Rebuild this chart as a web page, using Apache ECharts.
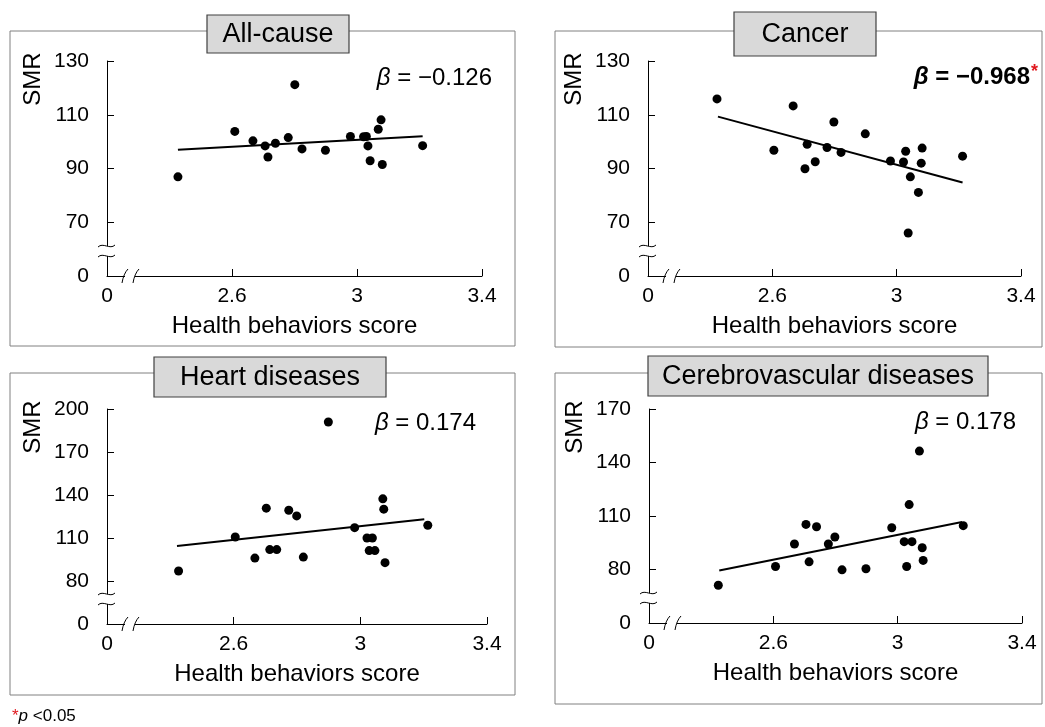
<!DOCTYPE html>
<html>
<head>
<meta charset="utf-8">
<script src="https://cdn.jsdelivr.net/npm/echarts@6/dist/echarts.min.js"></script>
<style>
  html, body { margin: 0; padding: 0; background: #fff; }
  #main { width: 1045px; height: 727px; }
</style>
</head>
<body>
<div id="main"></div>
<script>
// panel titles and regression coefficients
const titles = ['All-cause', 'Cancer', 'Heart diseases', 'Cerebrovascular diseases'];
const betas = ['−0.126', '−0.968', '0.174', '0.178'];
const significant = [false, true, false, false];

// x axis: health behaviors score (broken between 0 and 2.6, the first value is shown as 0)
const xTickVals = [2.2, 2.6, 3.0, 3.4];
const xTickText = ['0', '2.6', '3', '3.4'];

// y axes: SMR (broken, the first value is shown as 0)
const yTickVals1 = [50, 70, 90, 110, 130];
const yTickVals2 = [50, 70, 90, 110, 130];
const yTickVals3 = [50, 80, 110, 140, 170, 200];
const yTickVals4 = [50, 80, 110, 140, 170];

// all-cause
const allScore = [2.427, 2.609, 2.667, 2.706, 2.715, 2.739, 2.780, 2.801, 2.824, 2.899, 2.979, 3.021, 3.030, 3.035, 3.042, 3.068, 3.077, 3.081, 3.210];
const allSMR = [86.9, 103.8, 100.3, 98.4, 94.3, 99.4, 101.5, 121.2, 97.3, 96.8, 101.9, 101.8, 101.9, 98.4, 92.9, 104.6, 108.1, 91.5, 98.5];
const allFitX = [2.427, 3.210];
const allFitY = [97.0, 102.0];

// cancer
const cancerScore = [2.422, 2.605, 2.667, 2.705, 2.712, 2.738, 2.776, 2.798, 2.821, 2.899, 2.980, 3.022, 3.029, 3.037, 3.044, 3.070, 3.079, 3.082, 3.212];
const cancerSMR = [115.9, 96.8, 113.3, 89.9, 99.0, 92.5, 97.8, 107.3, 96.0, 102.9, 92.8, 92.4, 96.4, 66.0, 86.9, 81.1, 92.0, 97.6, 94.6];
const cancerFitX = [2.425, 3.212];
const cancerFitY = [109.3, 84.8];

// heart diseases
const heartScore = [2.426, 2.605, 2.667, 2.703, 2.714, 2.736, 2.774, 2.799, 2.820, 2.899, 2.982, 3.021, 3.028, 3.038, 3.046, 3.071, 3.074, 3.078, 3.213];
const heartSMR = [87.0, 110.7, 96.0, 130.8, 101.9, 101.9, 129.4, 125.4, 96.7, 190.9, 117.2, 110.0, 101.2, 110.0, 101.2, 137.3, 130.1, 92.8, 118.9];
const heartFitX = [2.421, 3.202];
const heartFitY = [104.4, 123.1];

// cerebrovascular diseases
const cereScore = [2.423, 2.607, 2.668, 2.705, 2.715, 2.739, 2.777, 2.798, 2.821, 2.898, 2.981, 3.021, 3.029, 3.037, 3.046, 3.070, 3.079, 3.082, 3.211];
const cereSMR = [71.2, 81.7, 94.3, 105.3, 84.3, 104.0, 94.3, 98.2, 79.8, 80.4, 103.4, 95.6, 81.7, 116.4, 95.6, 146.4, 92.2, 85.1, 104.6];
const cereFitX = [2.426, 3.207];
const cereFitY = [79.4, 106.6];

const panels = [
  { x: allScore, y: allSMR, fx: allFitX, fy: allFitY, yt: yTickVals1 },
  { x: cancerScore, y: cancerSMR, fx: cancerFitX, fy: cancerFitY, yt: yTickVals2 },
  { x: heartScore, y: heartSMR, fx: heartFitX, fy: heartFitY, yt: yTickVals3 },
  { x: cereScore, y: cereSMR, fx: cereFitX, fy: cereFitY, yt: yTickVals4 }
];

// layout of each panel (pixels)
const layout = [
  { grid: { left: 107, top: 61, width: 375, height: 215 }, frame: [10, 31, 505, 315], box: [207, 15, 142, 38], beta: [492, 78] },
  { grid: { left: 648, top: 61, width: 373, height: 215 }, frame: [555, 31, 487, 316], box: [734, 12, 142, 44], beta: [1030, 77] },
  { grid: { left: 107, top: 409, width: 380, height: 215 }, frame: [10, 373, 505, 322], box: [154, 357, 232, 40], beta: [476, 423] },
  { grid: { left: 649, top: 409, width: 373, height: 214 }, frame: [555, 373, 487, 331], box: [648, 356, 340, 40], beta: [1016, 422] }
];

const FONT = '"Liberation Sans", Arial, sans-serif';
const chart = echarts.init(document.getElementById('main'));

const grids = [], xAxes = [], yAxes = [], series = [], graphics = [];

panels.forEach((p, i) => {
  const lay = layout[i];
  grids.push(lay.grid);

  xAxes.push({
    gridIndex: i, type: 'value',
    min: xTickVals[0], max: xTickVals[xTickVals.length - 1],
    name: 'Health behaviors score', nameLocation: 'middle', nameGap: 38,
    nameTextStyle: { fontSize: 24, color: '#000', fontFamily: FONT },
    axisLine: { show: true, onZero: false, lineStyle: { color: '#000', width: 1 } },
    axisTick: { show: true, inside: true, length: 7, customValues: xTickVals.slice(1), lineStyle: { color: '#000' } },
    axisLabel: {
      customValues: xTickVals, margin: 10, fontSize: 21, color: '#000', fontFamily: FONT,
      formatter: v => xTickText[xTickVals.findIndex(t => Math.abs(t - v) < 1e-6)]
    },
    splitLine: { show: false }
  });

  const yt = p.yt;
  yAxes.push({
    gridIndex: i, type: 'value',
    min: yt[0], max: yt[yt.length - 1],
    axisLine: { show: true, onZero: false, lineStyle: { color: '#000', width: 1 } },
    axisTick: { show: true, inside: true, length: 7, customValues: yt.slice(1), lineStyle: { color: '#000' } },
    axisLabel: {
      customValues: yt, margin: 18, fontSize: 21, color: '#000', fontFamily: FONT,
      formatter: v => (v === yt[0] ? '0' : String(v))
    },
    splitLine: { show: false }
  });

  series.push({
    type: 'scatter', xAxisIndex: i, yAxisIndex: i,
    data: p.x.map((v, k) => [v, p.y[k]]),
    symbolSize: 9, itemStyle: { color: '#000', opacity: 1 }, z: 3
  });
  series.push({
    type: 'line', xAxisIndex: i, yAxisIndex: i,
    data: p.fx.map((v, k) => [v, p.fy[k]]),
    symbol: 'none', lineStyle: { color: '#000', width: 2 }, z: 2
  });

  // frame and title box
  const f = lay.frame, b = lay.box;
  graphics.push({ type: 'rect', shape: { x: f[0], y: f[1], width: f[2], height: f[3] },
    style: { fill: 'none', stroke: '#808080', lineWidth: 1 }, z: 1 });
  graphics.push({ type: 'rect', shape: { x: b[0], y: b[1], width: b[2], height: b[3] },
    style: { fill: '#d9d9d9', stroke: '#404040', lineWidth: 1.2 }, z: 5 });
  graphics.push({ type: 'text', z: 6,
    style: { text: titles[i], x: b[0] + b[2] / 2, y: b[1] + b[3] / 2 + 1,
      align: 'center', verticalAlign: 'middle', textAlign: 'center', textVerticalAlign: 'middle',
      fontSize: 27, fontFamily: FONT, fill: '#000' } });

  // SMR label
  const g = lay.grid, L = g.left, T = g.top, B = g.top + g.height;
  graphics.push({ type: 'text', z: 6, x: L - 74, y: T + 18, rotation: Math.PI / 2,
    style: { text: 'SMR', x: 0, y: 0, align: 'center', verticalAlign: 'middle',
      textAlign: 'center', textVerticalAlign: 'middle', fontSize: 24, fontFamily: FONT, fill: '#000' } });

  // beta
  const bold = significant[i] ? 'bold' : 'normal';
  graphics.push({ type: 'text', z: 6,
    style: { text: '{i|β} = ' + betas[i], x: lay.beta[0], y: lay.beta[1],
      align: 'right', verticalAlign: 'middle', textAlign: 'right', textVerticalAlign: 'middle',
      fontSize: 24, fontFamily: FONT, fontWeight: bold, fill: '#000',
      rich: { i: { fontStyle: 'italic', fontSize: 24, fontFamily: FONT, fontWeight: bold } } } });
  if (significant[i]) {
    graphics.push({ type: 'text', z: 6,
      style: { text: '*', x: lay.beta[0] + 1, y: lay.beta[1] - 14, fontSize: 18, fontWeight: 'bold',
        fontFamily: FONT, fill: '#e0191f' } });
  }

  // axis break marks
  graphics.push({ type: 'rect', z: 50, shape: { x: L - 3, y: B - 30, width: 6, height: 10 }, style: { fill: '#fff' } });
  [B - 30, B - 20].forEach(yy => {
    graphics.push({ type: 'bezierCurve', z: 51,
      shape: { x1: L - 9, y1: yy + 1, cpx1: L - 4, cpy1: yy - 4, cpx2: L + 3, cpy2: yy + 4, x2: L + 8, y2: yy - 1 },
      style: { stroke: '#000', lineWidth: 1, fill: 'none' } });
  });
  graphics.push({ type: 'rect', z: 50, shape: { x: L + 18, y: B - 3, width: 10, height: 6 }, style: { fill: '#fff' } });
  [L + 15, L + 26].forEach(xx => {
    graphics.push({ type: 'bezierCurve', z: 51,
      shape: { x1: xx, y1: B + 7, cpx1: xx + 1, cpy1: B + 1, cpx2: xx + 3, cpy2: B - 4, x2: xx + 6, y2: B - 7 },
      style: { stroke: '#000', lineWidth: 1, fill: 'none' } });
  });
});

// footnote
graphics.push({ type: 'text', z: 6,
  style: { text: '{r|*}{i|p} <0.05', x: 12, y: 716, verticalAlign: 'middle', textVerticalAlign: 'middle',
    fontSize: 17, fontFamily: FONT, fill: '#000',
    rich: { r: { fill: '#e0191f', color: '#e0191f', fontSize: 17, fontFamily: FONT },
            i: { fontStyle: 'italic', fontSize: 17, fontFamily: FONT } } } });

chart.setOption({
  backgroundColor: '#fff',
  animation: false,
  grid: grids,
  xAxis: xAxes,
  yAxis: yAxes,
  series: series,
  graphic: { elements: graphics }
});
</script>
</body>
</html>
